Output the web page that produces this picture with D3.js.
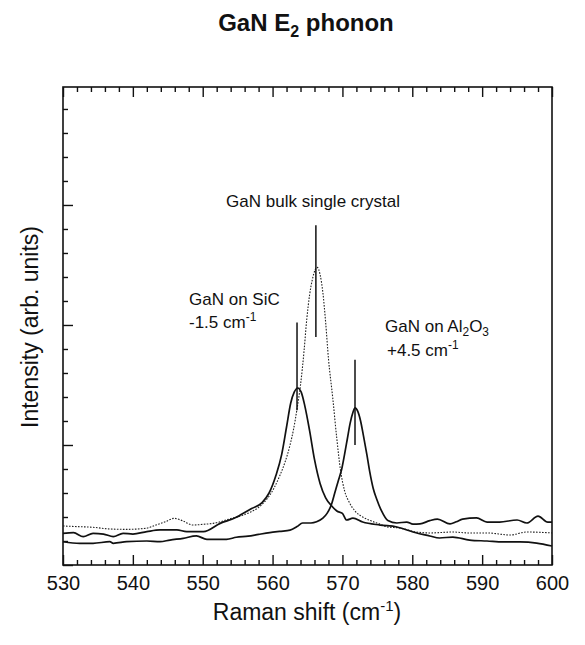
<!DOCTYPE html>
<html><head><meta charset="utf-8">
<script src="https://cdn.jsdelivr.net/npm/d3@7"></script>
<style>body{margin:0;background:#fff}svg{display:block;font-family:"Liberation Sans",Arial,Helvetica,sans-serif}</style>
</head><body><svg id="c" width="585" height="645"></svg>
<script>
// Raman shift (cm^-1) and intensity (arb. units)
const sicShift = [530.0,531.5,532.9,534.3,535.8,537.2,538.6,540.0,542.0,543.9,546.3,547.7,550.1,552.5,554.8,555.5,557,558.5,559.5,560.5,561.3,562.0,562.6,563.1,563.6,564.1,564.6,565.3,566.0,566.8,567.6,568.5,569.2,570.0,570.6,571.5,572.9,575.4,577.8,580.1,582.5,583.9,585.8,588.2,590.7,593.0,595.4,597.8,600];
const sicInt   = [0.264,0.269,0.236,0.264,0.258,0.236,0.264,0.258,0.278,0.292,0.292,0.278,0.278,0.347,0.397,0.42,0.47,0.52,0.60,0.75,0.92,1.15,1.35,1.44,1.475,1.44,1.33,1.12,0.88,0.68,0.56,0.49,0.45,0.43,0.375,0.39,0.358,0.333,0.317,0.275,0.242,0.225,0.233,0.208,0.2,0.192,0.192,0.183,0.158];
const bulkShift = [530.0,532,534.3,536.7,539.1,541.9,543.3,544.7,545.9,547.1,548.6,550.1,551.5,552.5,553.9,555.5,556.8,558.0,559.2,560.2,561.0,561.8,562.5,563.0,563.5,564.0,564.5,564.9,565.3,565.7,566.1,566.4,566.8,567.2,567.6,568.0,568.6,569.2,569.7,570.3,571.0,571.8,572.9,574,575.4,576.4,578.2,580.6,582.5,585.8,588,590.7,594.0,596.4,600];
const bulkInt   = [0.325,0.32,0.314,0.30,0.297,0.306,0.333,0.361,0.389,0.369,0.333,0.339,0.347,0.36,0.385,0.41,0.44,0.48,0.55,0.64,0.74,0.86,1.0,1.13,1.30,1.50,1.78,2.05,2.25,2.38,2.46,2.48,2.42,2.27,2.02,1.72,1.40,1.05,0.80,0.62,0.52,0.45,0.40,0.37,0.34,0.317,0.308,0.275,0.267,0.275,0.267,0.267,0.25,0.275,0.267];
const alShift = [530.0,532.4,534.3,536.7,537.2,539.1,542.0,543.9,545.3,547.2,549.1,550.6,553.4,554.8,556.5,558.0,559.6,561.0,562.5,563.5,564.3,565.5,566.3,567.2,567.8,568.4,568.9,569.4,569.9,570.3,570.7,571.1,571.5,571.8,572.2,572.6,573.0,573.5,573.9,574.4,574.9,575.6,576.5,577.8,579.2,580.1,581.1,582.5,583.6,585.4,586.3,587.2,589.2,590.7,592.5,595.0,596.4,598.0,599.4,600.0];
const alInt   = [0.194,0.181,0.181,0.194,0.181,0.194,0.2,0.194,0.208,0.222,0.242,0.214,0.214,0.231,0.24,0.255,0.27,0.28,0.29,0.32,0.35,0.35,0.36,0.39,0.43,0.50,0.60,0.70,0.80,0.92,1.05,1.18,1.27,1.31,1.28,1.20,1.08,0.92,0.78,0.64,0.55,0.45,0.37,0.35,0.358,0.34,0.342,0.37,0.383,0.342,0.36,0.383,0.392,0.358,0.358,0.375,0.35,0.408,0.358,0.358];
// peak marker lines: [shift, top, bottom]
const markers = [[563.5,2.02,1.29],[566.2,2.83,1.90],[571.8,1.71,1.00]];
const xTickLabels = [530,540,550,560,570,580,590,600];

const svg = d3.select("#c");
const L=63,R=552,T=87,B=565;
const x = d3.scaleLinear().domain([530,600]).range([L,R]);
const y = d3.scaleLinear().domain([0,3.983]).range([B,T]);
const ink="#111";

// frame
svg.append("rect").attr("x",L).attr("y",T).attr("width",R-L).attr("height",B-T)
  .attr("fill","none").attr("stroke",ink).attr("stroke-width",1.6);

// bottom axis ticks (inward)
const minorX = d3.range(530,600.1,2);
const bottomMinor = d3.axisTop(x).tickValues(minorX.filter(v=>v%10!==0)).tickSize(5).tickFormat("");
const bottomMajor = d3.axisTop(x).tickValues(xTickLabels).tickSize(10).tickFormat("");
[bottomMinor,bottomMajor].forEach(a=>{
  const g=svg.append("g").attr("transform",`translate(0,${B})`).call(a);
  g.select(".domain").remove(); g.selectAll("line").attr("stroke",ink).attr("stroke-width",1.4);
});
const topMinor = d3.axisBottom(x).tickValues(minorX.filter(v=>v%10!==0)).tickSize(5).tickFormat("");
const topMajor = d3.axisBottom(x).tickValues(xTickLabels).tickSize(10).tickFormat("");
[topMinor,topMajor].forEach(a=>{
  const g=svg.append("g").attr("transform",`translate(0,${T})`).call(a);
  g.select(".domain").remove(); g.selectAll("line").attr("stroke",ink).attr("stroke-width",1.4);
});
// x labels
const lab = d3.axisBottom(x).tickValues(xTickLabels).tickSize(0).tickPadding(0).tickFormat(d3.format("d"));
const gl = svg.append("g").attr("transform",`translate(0,${B})`).call(lab);
gl.select(".domain").remove();
gl.selectAll("text").attr("y",25).attr("dy",0).attr("font-size",20).attr("fill",ink)
  .attr("font-family","'Liberation Sans',Arial,sans-serif");

// left axis ticks (inward)
const minorY = d3.range(0,3.99,0.2).filter(v=>Math.abs(v-Math.round(v))>1e-6);
const leftMinor = d3.axisRight(y).tickValues(minorY).tickSize(5).tickFormat("");
const leftMajor = d3.axisRight(y).tickValues([0,1,2,3]).tickSize(10).tickFormat("");
[leftMinor,leftMajor].forEach(a=>{
  const g=svg.append("g").attr("transform",`translate(${L},0)`).call(a);
  g.select(".domain").remove(); g.selectAll("line").attr("stroke",ink).attr("stroke-width",1.4);
});

// curves
const line = d3.line().x(d=>x(d[0])).y(d=>y(d[1])).curve(d3.curveMonotoneX);
const cg = svg.append("g");
cg.append("path").datum(d3.zip(bulkShift,bulkInt)).attr("d",line)
  .attr("fill","none").attr("stroke","#222").attr("stroke-width",1.1).attr("stroke-dasharray","1.6,1.4");
cg.append("path").datum(d3.zip(sicShift,sicInt)).attr("d",line)
  .attr("fill","none").attr("stroke",ink).attr("stroke-width",1.7);
cg.append("path").datum(d3.zip(alShift,alInt)).attr("d",line)
  .attr("fill","none").attr("stroke",ink).attr("stroke-width",1.7);

// markers
svg.selectAll("line.mk").data(markers).join("line").attr("class","mk")
  .attr("x1",d=>x(d[0])).attr("x2",d=>x(d[0])).attr("y1",d=>y(d[1])).attr("y2",d=>y(d[2]))
  .attr("stroke",ink).attr("stroke-width",1.5);

// annotations
const fs=17;
function txt(xp,yp,parts,anchor){
  const t=svg.append("text").attr("x",xp).attr("y",yp).attr("font-size",fs).attr("fill",ink)
    .attr("text-anchor",anchor||"start");
  parts.forEach(p=>{
    const s=t.append("tspan").text(p[0]);
    if(p[1]==="sub"){s.attr("dy",4).attr("font-size",fs*0.7);}
    else if(p[1]==="sup"){s.attr("dy",-7).attr("font-size",fs*0.7);}
    else if(p[1]==="subback"){s.attr("dy",-4);}
  });
  return t;
}
txt(313,207,[["GaN bulk single crystal"]],"middle");
txt(189,305,[["GaN on SiC"]]);
txt(189,328,[["-1.5 cm"],["-1","sup"]]);
txt(385,332,[["GaN on Al"],["2","sub"],["O","subback"],["3","sub"]]);
txt(387,356,[["+4.5 cm"],["-1","sup"]]);

// title
const tt=svg.append("text").attr("x",306).attr("y",31).attr("text-anchor","middle")
  .attr("font-size",24).attr("font-weight","bold").attr("fill",ink);
tt.append("tspan").text("GaN E");
tt.append("tspan").text("2").attr("dy",6).attr("font-size",16);
tt.append("tspan").text(" phonon").attr("dy",-6);

// axis titles
const xt=svg.append("text").attr("x",307).attr("y",620).attr("text-anchor","middle").attr("font-size",23).attr("fill",ink);
xt.append("tspan").text("Raman shift (cm");
xt.append("tspan").text("-1").attr("dy",-9).attr("font-size",15);
xt.append("tspan").text(")").attr("dy",9);

svg.append("text").attr("transform","translate(38,327) rotate(-90)").attr("text-anchor","middle")
  .attr("font-size",23).attr("fill",ink).text("Intensity (arb. units)");
</script></body></html>
